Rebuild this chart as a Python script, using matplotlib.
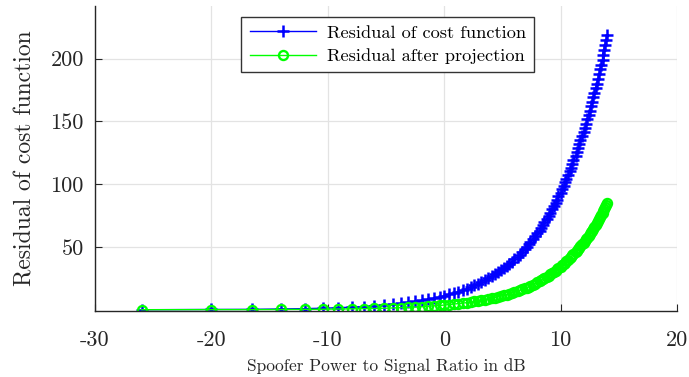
import matplotlib.pyplot as plt

plt.rcParams['font.family'] = 'serif'
plt.rcParams['font.serif'] = ['cmr10', 'DejaVu Serif']
plt.rcParams['mathtext.fontset'] = 'cm'
plt.rcParams['axes.unicode_minus'] = False
plt.rcParams['axes.formatter.use_mathtext'] = False

spsr_db = [-26.0, -20.0, -16.5, -14.0, -12.0, -10.4, -9.1, -7.9, -6.9, -6.0,
           -5.2, -4.4, -3.7, -3.1, -2.5, -1.9, -1.4, -0.9, -0.4, 0.0,
           0.4, 0.8, 1.2, 1.6, 2.0, 2.3, 2.6, 2.9, 3.2, 3.5,
           3.8, 4.1, 4.4, 4.6, 4.9, 5.1, 5.4, 5.6, 5.8, 6.0,
           6.3, 6.5, 6.7, 6.9, 7.1, 7.3, 7.4, 7.6, 7.8, 8.0,
           8.2, 8.3, 8.5, 8.6, 8.8, 9.0, 9.1, 9.3, 9.4, 9.6,
           9.7, 9.8, 10.0, 10.1, 10.3, 10.4, 10.5, 10.6, 10.8, 10.9,
           11.0, 11.1, 11.3, 11.4, 11.5, 11.6, 11.7, 11.8, 12.0, 12.1,
           12.2, 12.3, 12.4, 12.5, 12.6, 12.7, 12.8, 12.9, 13.0, 13.1,
           13.2, 13.3, 13.4, 13.5, 13.6, 13.6, 13.7, 13.8, 13.9, 14.0]

# residual of cost function (blue)
res_cost = [0.0, 0.2, 0.3, 0.6, 0.9, 1.2, 1.6, 2.1, 2.5, 3.1,
            3.7, 4.3, 5.0, 5.8, 6.6, 7.4, 8.3, 9.2, 10.1, 11.2,
            12.2, 13.3, 14.4, 15.6, 16.8, 18.1, 19.4, 20.8, 22.2, 23.6,
            25.1, 26.6, 28.2, 29.8, 31.4, 33.1, 34.8, 36.6, 38.4, 40.2,
            42.1, 44.0, 46.0, 48.0, 50.0, 52.1, 54.2, 56.3, 58.5, 60.8,
            63.0, 65.3, 67.7, 70.0, 72.5, 74.9, 77.4, 79.9, 82.5, 85.1,
            87.8, 90.4, 93.2, 95.9, 98.7, 101.5, 104.4, 107.3, 110.2, 113.2,
            116.2, 119.2, 122.3, 125.4, 128.6, 131.8, 135.0, 138.3, 141.6, 144.9,
            148.3, 151.7, 155.1, 158.6, 162.1, 165.7, 169.2, 172.9, 176.5, 180.2,
            183.9, 187.7, 191.5, 195.3, 199.2, 203.1, 207.0, 211.0, 215.0, 219.0]

# residual after projection (green)
res_proj = [0.0, 0.1, 0.1, 0.2, 0.3, 0.4, 0.6, 0.7, 0.9, 1.0,
            1.2, 1.4, 1.7, 1.9, 2.2, 2.4, 2.7, 3.1, 3.4, 3.7,
            4.1, 4.5, 4.9, 5.3, 5.7, 6.1, 6.6, 7.1, 7.6, 8.1,
            8.6, 9.1, 9.7, 10.3, 10.9, 11.5, 12.1, 12.8, 13.4, 14.1,
            14.8, 15.5, 16.2, 17.0, 17.7, 18.5, 19.3, 20.1, 20.9, 21.8,
            22.6, 23.5, 24.4, 25.3, 26.2, 27.2, 28.1, 29.1, 30.1, 31.1,
            32.1, 33.2, 34.2, 35.3, 36.4, 37.5, 38.6, 39.7, 40.9, 42.1,
            43.3, 44.5, 45.7, 46.9, 48.2, 49.5, 50.8, 52.1, 53.4, 54.7,
            56.1, 57.5, 58.8, 60.2, 61.7, 63.1, 64.6, 66.0, 67.5, 69.0,
            70.6, 72.1, 73.7, 75.2, 76.8, 78.4, 80.0, 81.7, 83.3, 85.0]

x_ticks = [-30, -20, -10, 0, 10, 20]
x_labels = ['-30', '-20', '-10', '0', '10', '20']
y_ticks = [50, 100, 150, 200]

fig = plt.figure(figsize=(6.89, 3.77), dpi=100)
ax = fig.add_axes([0.1379, 0.1751, 0.8447, 0.809])

ax.plot(spsr_db, res_cost, color=(0, 0, 1), marker='+', markersize=8.5,
        markeredgewidth=1.8, linewidth=1, label='Residual of cost function')
ax.plot(spsr_db, res_proj, color=(0, 1, 0), marker='o', markersize=6.5,
        markeredgewidth=1.7, markerfacecolor='none', linewidth=1,
        label='Residual after projection')

ax.set_xlim(-30, 20)
ax.set_ylim(-1, 242)
ax.set_xticks(x_ticks)
ax.set_xticklabels(x_labels)
ax.set_yticks(y_ticks)
ax.tick_params(direction='in', length=5, width=0.8, labelsize=16,
               colors='#262626')
ax.tick_params(axis='x', pad=14)
ax.tick_params(axis='y', pad=8)

ax.grid(True, color='#e3e3e3', linewidth=0.9)
ax.set_axisbelow(True)
ax.spines['top'].set_visible(False)
ax.spines['right'].set_visible(False)
for s in ['left', 'bottom']:
    ax.spines[s].set_color('#262626')
    ax.spines[s].set_linewidth(1.0)

ax.set_xlabel('Spoofer Power to Signal Ratio in dB', fontsize=12.5,
              color='#262626', labelpad=6)
ax.set_ylabel('Residual of cost function', fontsize=17, color='#262626',
              labelpad=10)

leg = ax.legend(loc='upper center', bbox_to_anchor=(0.503, 0.965),
                fontsize=13.2, handlelength=3.6, borderaxespad=0,
                fancybox=False, framealpha=1, edgecolor='#333333',
                borderpad=0.45, labelspacing=0.4, handletextpad=0.6)
leg.get_frame().set_linewidth(1.0)

fig.savefig('out.png', dpi=100)
